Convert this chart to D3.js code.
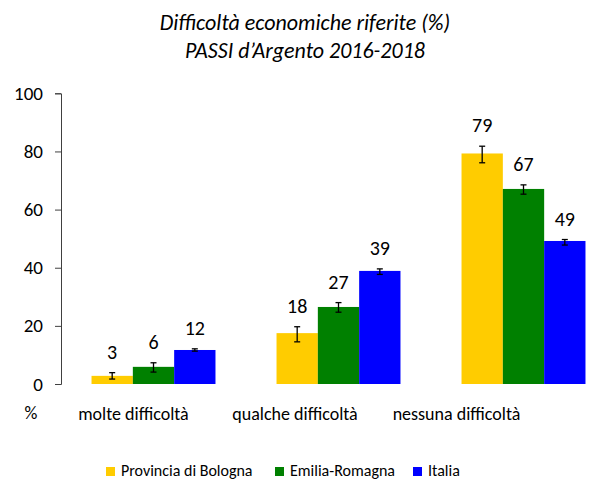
<!DOCTYPE html>
<html><head><meta charset="utf-8">
<script src="https://cdn.jsdelivr.net/npm/d3@7"></script>
<style>body{margin:0;background:#fff}svg{display:block}text{font-family:Carlito,Lato,"Open Sans",sans-serif}</style>
</head><body><svg id="c" width="599" height="481"></svg>
<script>
const categories = ["molte difficoltà", "qualche difficoltà", "nessuna difficoltà"];
const seriesNames = ["Provincia di Bologna", "Emilia-Romagna", "Italia"];
const bologna = [2.8, 17.5, 79.3];
const emilia = [5.9, 26.5, 67.1];
const italia = [11.7, 38.9, 49.2];
const bolognaLow = [1.7, 14.5, 76.1];
const bolognaHigh = [3.9, 19.7, 81.8];
const emiliaLow = [4.1, 24.7, 65.3];
const emiliaHigh = [7.3, 28.0, 68.5];
const italiaLow = [11.3, 37.7, 47.8];
const italiaHigh = [12.1, 39.6, 49.7];
const yTicks = [0, 20, 40, 60, 80, 100];
const colors = ["#FFCC00", "#008000", "#0000FF"];

const series = [
  {name: seriesNames[0], values: bologna, low: bolognaLow, high: bolognaHigh},
  {name: seriesNames[1], values: emilia, low: emiliaLow, high: emiliaHigh},
  {name: seriesNames[2], values: italia, low: italiaLow, high: italiaHigh}
];

const svg = d3.select("#c");
const y = d3.scaleLinear().domain([0, 100]).range([384, 93.3]);
const x0 = d3.scaleBand().domain(categories).range([61, 616]).paddingInner(0.33).paddingOuter(0.165);
const x1 = d3.scaleBand().domain(seriesNames).range([0, x0.bandwidth()]);
const xl = d3.scalePoint().domain(categories).range([133.5, 456.5]);

// title
const title = svg.append("text").attr("x", 305).attr("text-anchor", "middle")
  .attr("font-style", "italic").attr("font-size", 22).attr("fill", "#000");
title.append("tspan").attr("x", 305).attr("y", 30).text("Difficoltà economiche riferite (%)");
title.append("tspan").attr("x", 305).attr("y", 58).text("PASSI d’Argento 2016-2018");

// y axis
const yAxis = d3.axisLeft(y).tickValues(yTicks).tickSize(6).tickPadding(12);
const ga = svg.append("g").attr("transform", "translate(61,0)").call(yAxis);
ga.select(".domain").attr("stroke", "#404040");
ga.selectAll(".tick line").attr("stroke", "#404040");
ga.selectAll(".tick text").attr("font-size", 19).attr("fill", "#000")
  .style("font-family", "Carlito,Lato,'Open Sans',sans-serif");

// bars
const groups = svg.append("g").selectAll("g").data(series).join("g").attr("fill", (d, i) => colors[i]);
groups.selectAll("rect").data(s => s.values.map((v, j) => ({s, v, j}))).join("rect")
  .attr("x", d => x0(categories[d.j]) + x1(d.s.name))
  .attr("width", x1.bandwidth())
  .attr("y", d => y(d.v))
  .attr("height", d => y(0) - y(d.v));

// error bars
const eg = svg.append("g").attr("stroke", "#000").attr("stroke-width", 1.3);
series.forEach(s => {
  s.values.forEach((v, j) => {
    const cx = x0(categories[j]) + x1(s.name) + x1.bandwidth() / 2;
    eg.append("line").attr("x1", cx).attr("x2", cx).attr("y1", y(s.low[j])).attr("y2", y(s.high[j]));
    eg.append("line").attr("x1", cx - 3).attr("x2", cx + 3).attr("y1", y(s.low[j])).attr("y2", y(s.low[j]));
    eg.append("line").attr("x1", cx - 3).attr("x2", cx + 3).attr("y1", y(s.high[j])).attr("y2", y(s.high[j]));
  });
});

// value labels
const lg = svg.append("g").attr("font-size", 20).attr("fill", "#000").attr("text-anchor", "middle");
series.forEach(s => {
  s.values.forEach((v, j) => {
    const cx = x0(categories[j]) + x1(s.name) + x1.bandwidth() / 2;
    lg.append("text").attr("x", cx).attr("y", y(s.high[j]) - 14).text(Math.round(v));
  });
});

// category labels
svg.append("g").selectAll("text").data(categories).join("text")
  .attr("x", d => xl(d)).attr("y", 420).attr("text-anchor", "middle")
  .attr("font-size", 18).attr("fill", "#000").text(d => d);
svg.append("text").attr("x", 31).attr("y", 419).attr("text-anchor", "middle")
  .attr("font-size", 18).attr("fill", "#000").text("%");

// legend
const legendX = [106, 275, 413];
const leg = svg.append("g").selectAll("g").data(series).join("g")
  .attr("transform", (d, i) => `translate(${legendX[i]},0)`);
leg.append("rect").attr("x", 0).attr("y", 467).attr("width", 9).attr("height", 9).attr("fill", (d, i) => colors[i]);
leg.append("text").attr("x", 15).attr("y", 476).attr("font-size", 16).attr("fill", "#000").text(d => d.name);
</script></body></html>
